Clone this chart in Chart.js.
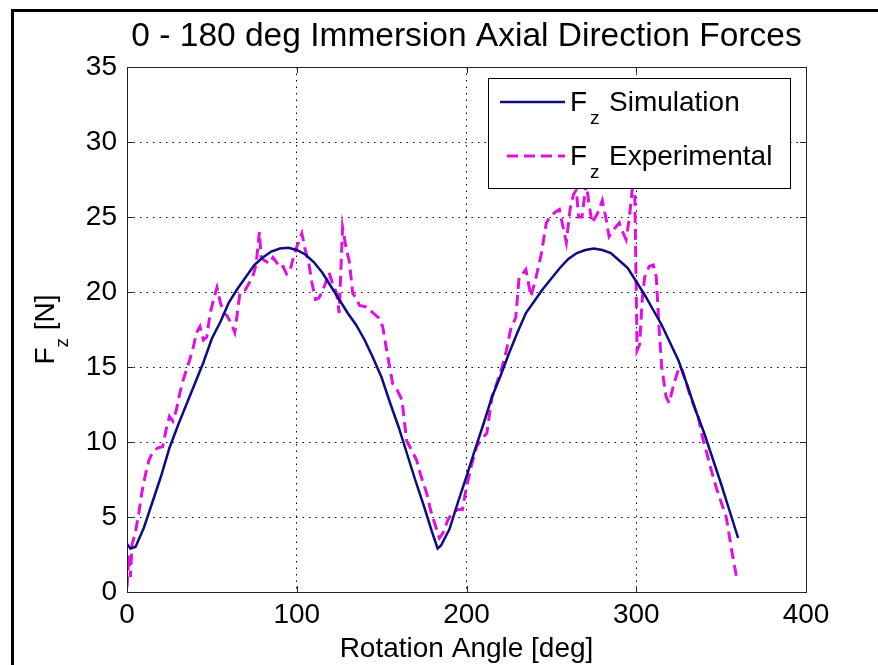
<!DOCTYPE html>
<html>
<head>
<meta charset="utf-8">
<script src="https://cdn.jsdelivr.net/npm/chart.js@4.4.1/dist/chart.umd.min.js"></script>
<style>
  html, body { margin: 0; padding: 0; background: #ffffff; }
  #wrap { width: 878px; height: 665px; position: relative; }
</style>
</head>
<body>
<div id="wrap"><canvas id="fz" width="878" height="665"></canvas></div>
<script>
// Rotation angle [deg] and axial force [N], simulated curve
const simAngle = [0,2,5,10,15,20,25,30,35,40,45,50,55,60,65,70,75,80,85,90,95,100,105,110,115,120,125,130,135,140,145,150,155,160,165,170,175,180,183,185,190,195,200,205,210,215,220,225,230,235,240,245,250,255,260,265,270,275,280,285,290,295,300,305,310,315,320,325,330,335,340,345,350,355,360];
const simForce = [3.2,2.9,3.0,4.3,6.0,7.7,9.6,11.1,12.5,13.9,15.3,16.9,18.0,19.3,20.2,21.0,21.8,22.3,22.7,22.9,22.95,22.8,22.5,22.0,21.3,20.4,19.5,18.6,17.8,16.8,15.6,14.3,12.6,11.0,9.2,7.4,5.7,3.9,2.9,3.1,4.2,6.0,7.7,9.5,11.2,13.0,14.4,15.9,17.3,18.6,19.4,20.2,20.9,21.6,22.2,22.6,22.8,22.9,22.8,22.6,22.1,21.6,20.7,19.8,18.8,17.8,16.6,15.4,13.8,12.1,10.6,8.9,7.2,5.4,3.6];

// Measured axial force
const expAngle = [0,1,2,3,5,7,9,11,13,15,18,21,23,25,27,29,31,33,35,37,39,41,43,45,47,49,51,53,55,57,59,61,63.5,66.5,69,72,74,76,78,79,81,84,86,88,90,92,94,96,98,100,103,105,107,109,111,113,115,117,119,121,123.5,125,127,129,131,133,135,137,141,145,148,150.6,153,156.5,159,162,164.7,167,170.6,173,176.5,179,182,184,186,189,192,195,197.6,200,203,206,209,212,215,219,221,223.5,226,229,231,233,235,238,241,244,247,249,252,254.7,258.8,261,263,264.7,266,268,270.6,272,274,277,280,282,284,287,290,292,294,296,297.6,299,300.5,302,303.5,305,307.6,310,311.8,313.5,315,317.6,319.4,322,325.3,327,329,332,336.5,339,341,344,347,350,353,356.5,359.4];
const expForce = [0.3,2.5,1.0,3.2,4.0,5.3,6.8,7.9,8.8,9.3,9.6,9.7,10.8,11.7,11.4,12.1,13.2,14.1,14.8,15.5,16.3,17.3,17.7,16.8,17.0,18.6,19.5,20.3,19.3,18.6,18.4,18.0,17.3,19.9,20.0,20.6,21.0,21.8,24.0,22.3,22.1,21.9,22.3,22.0,21.6,21.7,21.2,21.4,22.3,23.0,23.9,22.8,22.0,20.6,19.5,19.6,20.0,20.6,21.3,20.6,19.9,18.6,24.3,23.0,22.0,19.9,19.6,19.1,19.0,18.6,18.3,17.7,16.1,13.9,13.5,12.8,10.1,9.6,8.8,7.8,6.6,5.4,4.3,3.6,3.9,4.8,5.3,5.5,5.5,7.0,8.5,9.7,10.2,10.6,13.0,14.3,15.0,16.1,17.5,18.3,21.0,21.2,21.5,19.7,21.0,22.5,24.6,25.0,25.3,25.5,23.3,25.5,26.5,26.8,25.0,25.0,27.3,26.0,24.6,25.2,26.1,25.0,23.7,24.2,24.6,24.0,23.5,25.0,26.8,27.5,16.1,16.5,19.5,21.0,21.7,21.8,21.0,17.5,15.0,13.0,12.6,13.8,15.0,14.8,14.1,13.0,11.7,10.3,9.5,8.2,7.0,6.0,5.0,2.6,0.8];

const xTicks = [0, 100, 200, 300, 400];
const yTicks = [0, 5, 10, 15, 20, 25, 30, 35];

const chartTitle = '0 - 180 deg Immersion Axial Direction Forces';
const xTitle = 'Rotation Angle [deg]';
const seriesNames = ['Simulation', 'Experimental'];

const FONT = "'Liberation Sans', Arial, Helvetica, sans-serif";
const SIM_COLOR = '#0c0c86';
const EXP_COLOR = '#e010e0';

const toPoints = (xs, ys) => xs.map((x, i) => ({ x, y: ys[i] }));

// Frame, box with inward ticks, titles and the legend
const decorations = {
  id: 'decorations',
  afterDraw(chart) {
    const ctx = chart.ctx;
    const a = chart.chartArea;
    const xs = chart.scales.x, ys = chart.scales.y;
    ctx.save();

    // outer figure frame
    ctx.strokeStyle = '#000';
    ctx.lineWidth = 3;
    ctx.beginPath();
    ctx.moveTo(12.5, 700);
    ctx.lineTo(12.5, 10.5);
    ctx.lineTo(900, 10.5);
    ctx.stroke();

    // axes box
    ctx.lineWidth = 1;
    ctx.strokeStyle = '#222';
    ctx.strokeRect(Math.round(a.left) + 0.5, Math.round(a.top) + 0.5,
                   Math.round(a.right - a.left), Math.round(a.bottom - a.top));

    // inward tick marks on all four sides
    const tl = 6;
    ctx.beginPath();
    xTicks.forEach(v => {
      const px = Math.round(xs.getPixelForValue(v)) + 0.5;
      ctx.moveTo(px, a.bottom); ctx.lineTo(px, a.bottom - tl);
      ctx.moveTo(px, a.top); ctx.lineTo(px, a.top + tl);
    });
    yTicks.forEach(v => {
      const py = Math.round(ys.getPixelForValue(v)) + 0.5;
      ctx.moveTo(a.left, py); ctx.lineTo(a.left + tl, py);
      ctx.moveTo(a.right, py); ctx.lineTo(a.right - tl, py);
    });
    ctx.stroke();

    // title
    ctx.fillStyle = '#000';
    ctx.textBaseline = 'alphabetic';
    ctx.textAlign = 'center';
    ctx.font = '33.5px ' + FONT;
    ctx.fillText(chartTitle, (a.left + a.right) / 2, 46);

    // x axis title
    ctx.font = '28px ' + FONT;
    ctx.fillText(xTitle, (a.left + a.right) / 2, 657);

    // y axis title: F with subscript z, then [N]
    ctx.save();
    ctx.translate(54, (a.top + a.bottom) / 2);
    ctx.rotate(-Math.PI / 2);
    ctx.textAlign = 'left';
    ctx.font = '28px ' + FONT;
    const wF = ctx.measureText('F').width;
    ctx.font = '19px ' + FONT;
    const wz = ctx.measureText('z').width;
    ctx.font = '28px ' + FONT;
    const wN = ctx.measureText(' [N]').width;
    let tx = -(wF + wz + wN) / 2;
    ctx.fillText('F', tx, 0); tx += wF;
    ctx.font = '19px ' + FONT;
    ctx.fillText('z', tx, 14); tx += wz;
    ctx.font = '28px ' + FONT;
    ctx.fillText(' [N]', tx, 0);
    ctx.restore();

    // legend
    const lx = 488.5, ly = 78.5, lw = 302, lh = 110;
    ctx.fillStyle = '#fff';
    ctx.fillRect(lx, ly, lw, lh);
    ctx.strokeStyle = '#000';
    ctx.lineWidth = 1;
    ctx.strokeRect(lx, ly, lw, lh);

    const rows = [
      { y: 102, color: SIM_COLOR, dash: [], width: 2.5, name: seriesNames[0] },
      { y: 156, color: EXP_COLOR, dash: [11, 6], width: 3, name: seriesNames[1] }
    ];
    rows.forEach(r => {
      ctx.save();
      ctx.strokeStyle = r.color;
      ctx.lineWidth = r.width;
      ctx.setLineDash(r.dash);
      ctx.beginPath();
      ctx.moveTo(r.dash.length ? 507 : 500, r.y);
      ctx.lineTo(565, r.y);
      ctx.stroke();
      ctx.restore();
      ctx.fillStyle = '#000';
      ctx.textAlign = 'left';
      ctx.font = '28px ' + FONT;
      ctx.fillText('F', 570, r.y + 9);
      ctx.font = '19px ' + FONT;
      ctx.fillText('z', 590, r.y + 22);
      ctx.font = '28px ' + FONT;
      ctx.fillText(r.name, 609, r.y + 9);
    });

    ctx.restore();
  }
};

new Chart(document.getElementById('fz'), {
  type: 'line',
  data: {
    datasets: [
      {
        label: seriesNames[0],
        data: toPoints(simAngle, simForce),
        borderColor: SIM_COLOR,
        borderWidth: 2.5,
        pointRadius: 0,
        tension: 0,
        fill: false
      },
      {
        label: seriesNames[1],
        data: toPoints(expAngle, expForce),
        borderColor: EXP_COLOR,
        borderWidth: 3,
        borderDash: [11, 6],
        pointRadius: 0,
        tension: 0,
        fill: false
      }
    ]
  },
  options: {
    responsive: false,
    animation: false,
    devicePixelRatio: 1,
    layout: { padding: { left: 0, top: 67, right: 72, bottom: 0 } },
    plugins: {
      legend: { display: false },
      title: { display: false },
      tooltip: { enabled: false }
    },
    scales: {
      x: {
        type: 'linear',
        min: 0, max: 400,
        afterBuildTicks: s => { s.ticks = xTicks.map(v => ({ value: v })); },
        afterFit: s => { s.height = 73; },
        ticks: { color: '#000', font: { family: FONT, size: 28 }, padding: 6, maxRotation: 0 },
        grid: { color: '#000', lineWidth: 1, drawTicks: false },
        border: { display: false, dash: [1.5, 5] }
      },
      y: {
        type: 'linear',
        min: 0, max: 35,
        afterBuildTicks: s => { s.ticks = yTicks.map(v => ({ value: v })); },
        afterFit: s => { s.width = 127; },
        ticks: { color: '#000', font: { family: FONT, size: 28 }, padding: 10 },
        grid: { color: '#000', lineWidth: 1, drawTicks: false },
        border: { display: false, dash: [1.5, 5] }
      }
    }
  },
  plugins: [decorations]
});
</script>
</body>
</html>
